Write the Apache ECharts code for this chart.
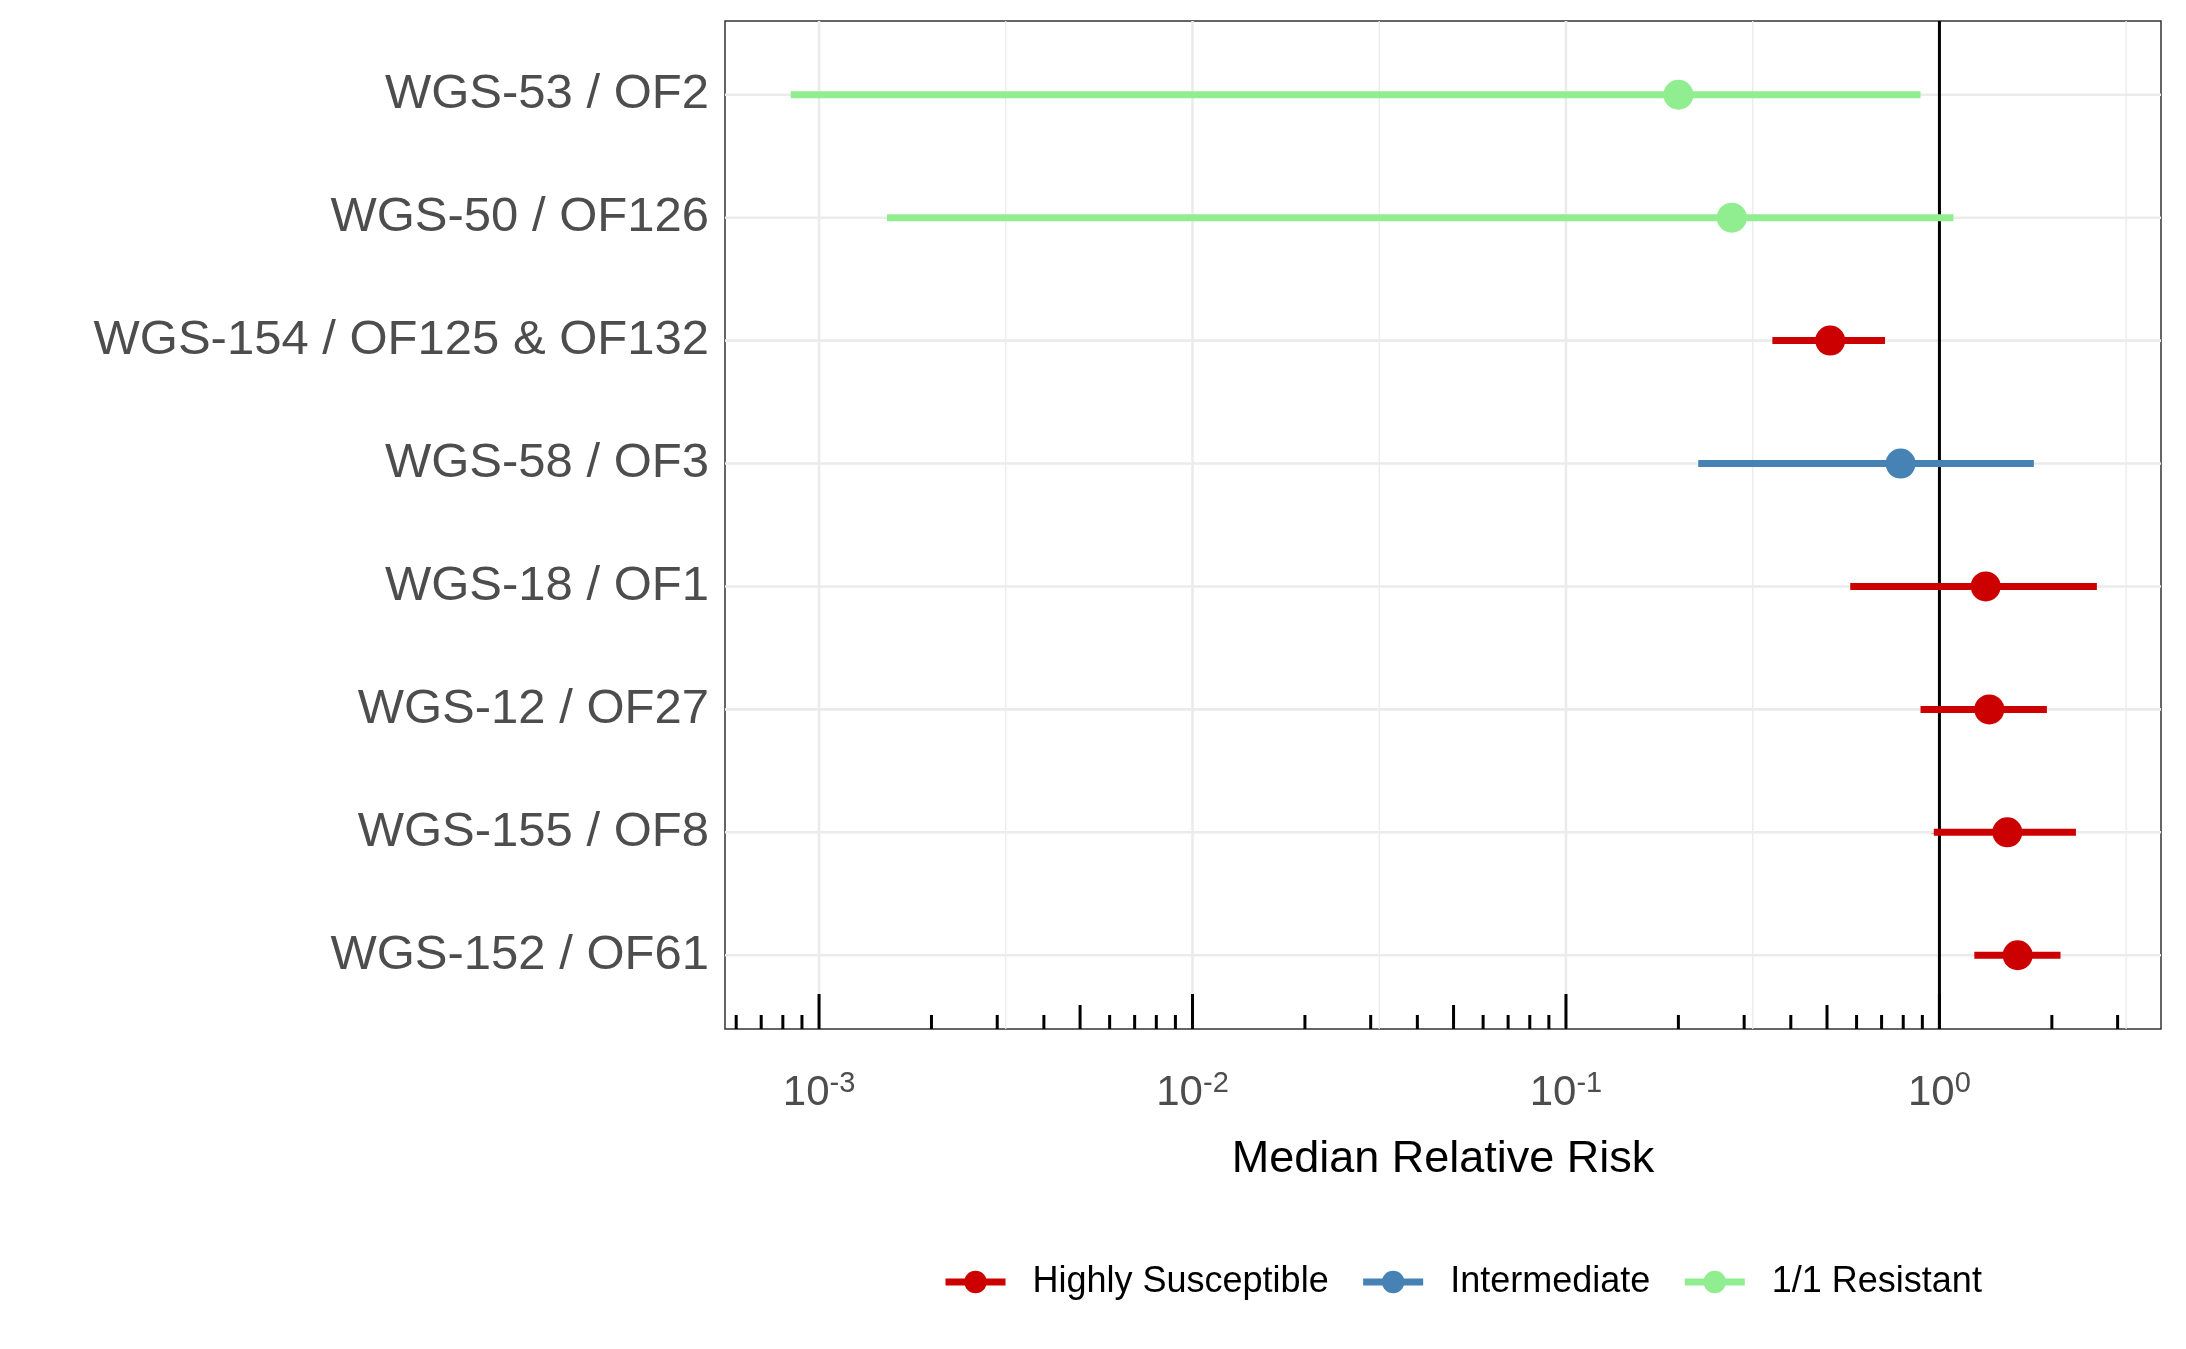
<!DOCTYPE html>
<html><head><meta charset="utf-8">
<script src="https://cdn.jsdelivr.net/npm/echarts@6/dist/echarts.min.js"></script>
<style>html,body{margin:0;background:#fff}#c{width:2186px;height:1349px}</style>
</head><body><div id="c"></div>
<script>
const categories = ["WGS-152 / OF61","WGS-155 / OF8","WGS-12 / OF27","WGS-18 / OF1","WGS-58 / OF3","WGS-154 / OF125 & OF132","WGS-50 / OF126","WGS-53 / OF2"];
const groups = ["Highly Susceptible","Highly Susceptible","Highly Susceptible","Highly Susceptible","Intermediate","Highly Susceptible","1/1 Resistant","1/1 Resistant"];
const medianRR = [1.62,1.52,1.36,1.33,0.787,0.51,0.278,0.20];
const lowerRR  = [1.24,0.966,0.89,0.577,0.226,0.357,0.00152,0.00084];
const upperRR  = [2.11,2.32,1.94,2.64,1.79,0.715,1.09,0.89];
const groupNames = ["Highly Susceptible","Intermediate","1/1 Resistant"];
const groupColors = ["#cc0000","#4682b4","#90ee90"];
const xMinRR = 0.00056, xMaxRR = 3.92;
const majorBreaks = [-3,-2,-1,0];
const minorBreaks = [-2.5,-1.5,-0.5,0.5];

const L = Math.log10;
const ticks = [];
for (let e=-4;e<=0;e++) for (let k=1;k<=9;k++){const v=k*Math.pow(10,e); if(v>=xMinRR&&v<=xMaxRR) ticks.push([L(v), k===1?2:(k===5?1:0)]);}
const rowIdx = categories.map((c,i)=>i);

const chart = echarts.init(document.getElementById('c'));
const series = [];
series.push({type:'custom',silent:true,z:1,data:majorBreaks.map(v=>[v,1]).concat(minorBreaks.map(v=>[v,0])),
 renderItem:(p,api)=>{const cs=p.coordSys;const x=api.coord([api.value(0),0])[0];
  return {type:'line',shape:{x1:x,y1:cs.y,x2:x,y2:cs.y+cs.height},style:{stroke:'#ebebeb',lineWidth:api.value(1)?2.6:1.3}};}});
series.push({type:'custom',silent:true,z:1,data:rowIdx.map(i=>[0,i]),
 renderItem:(p,api)=>{const cs=p.coordSys;const y=api.coord([0,api.value(1)])[1];
  return {type:'line',shape:{x1:cs.x,y1:y,x2:cs.x+cs.width,y2:y},style:{stroke:'#ebebeb',lineWidth:2.6}};}});
series.push({type:'custom',silent:true,z:3,data:ticks,
 renderItem:(p,api)=>{const cs=p.coordSys;const x=api.coord([api.value(0),0])[0];const len=[14,24,35][api.value(1)];const yb=cs.y+cs.height;
  return {type:'line',shape:{x1:x,y1:yb,x2:x,y2:yb-len},style:{stroke:'#000',lineWidth:3}};}});
series.push({type:'custom',silent:true,z:4,data:[[0]],
 renderItem:(p,api)=>{const cs=p.coordSys;const x=api.coord([0,0])[0];
  return {type:'line',shape:{x1:x,y1:cs.y,x2:x,y2:cs.y+cs.height},style:{stroke:'#000',lineWidth:3}};}});
groupNames.forEach((g,gi)=>{
  const idx = rowIdx.filter(i=>groups[i]===g);
  series.push({type:'custom',z:5,silent:true,data:idx.map(i=>[L(lowerRR[i]),L(upperRR[i]),i]),
   renderItem:(p,api)=>{const a=api.coord([api.value(0),api.value(2)]);const b=api.coord([api.value(1),api.value(2)]);
    return {type:'line',shape:{x1:a[0],y1:a[1],x2:b[0],y2:b[1]},style:{stroke:groupColors[gi],lineWidth:7}};}});
  series.push({type:'scatter',z:6,symbolSize:30,itemStyle:{color:groupColors[gi],opacity:1},data:idx.map(i=>[L(medianRR[i]),i])});
  series.push({type:'line',name:g,data:[],symbol:'circle',symbolSize:26,itemStyle:{color:groupColors[gi]},lineStyle:{color:groupColors[gi],width:7}});
});
chart.setOption({
 animation:false,
 grid:{left:725,right:25,top:21,bottom:320,show:true,borderColor:'#333',borderWidth:1.5,containLabel:false},
 xAxis:{type:'value',min:L(xMinRR),max:L(xMaxRR),splitLine:{show:false},axisTick:{show:false},
   axisLine:{show:false},name:'Median Relative Risk',nameLocation:'middle',nameGap:108,
   nameTextStyle:{fontSize:45,color:'#000',fontFamily:'Liberation Sans'},
   axisLabel:{customValues:majorBreaks,margin:40,fontFamily:'Liberation Sans',color:'#4d4d4d',
     formatter:v=>'{b|10}{s|'+v+'}',rich:{b:{fontSize:42,color:'#4d4d4d',fontFamily:'Liberation Sans'},s:{fontSize:29,color:'#4d4d4d',verticalAlign:'top',padding:[0,0,20,0],fontFamily:'Liberation Sans'}}}},
 yAxis:{type:'value',min:-0.6,max:7.6,axisLine:{show:false},splitLine:{show:false},
   axisTick:{show:true,customValues:rowIdx,length:8,lineStyle:{color:'#333',width:1.5}},
   axisLabel:{customValues:rowIdx,formatter:v=>categories[v],fontSize:49,color:'#4d4d4d',margin:16,fontFamily:'Liberation Sans'}},
 legend:{data:groupNames,bottom:44,left:937,itemWidth:60,itemHeight:28,itemGap:31,
   lineStyle:{width:7},
   textStyle:{fontSize:36,color:'#000',fontFamily:'Liberation Sans',padding:[0,0,0,22]}},
 series
});
</script></body></html>
